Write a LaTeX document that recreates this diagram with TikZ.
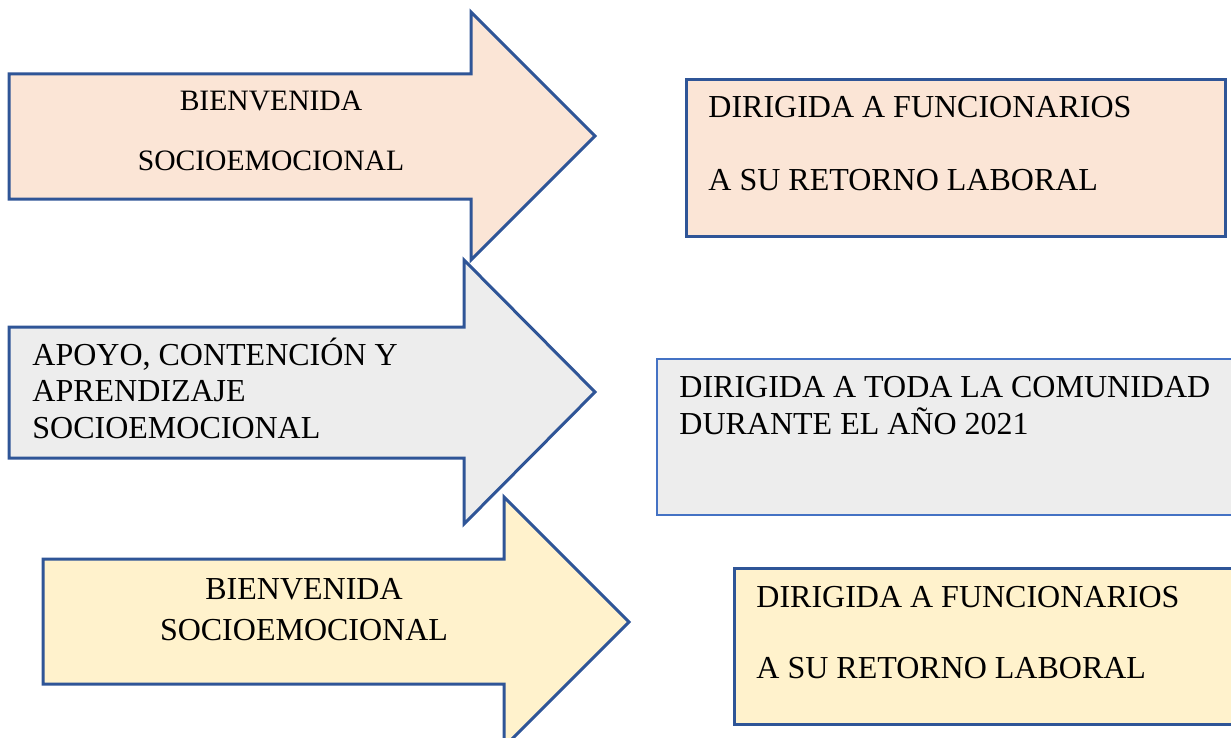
\documentclass[tikz,border=0pt]{standalone}
\usepackage{fontspec}
\setmainfont{Liberation Serif}
\usepackage{xcolor}
\usepackage{tikz}
\definecolor{edgeblue}{HTML}{2F5597}
\definecolor{boxblue}{HTML}{4472C4}
\definecolor{peachfill}{HTML}{FBE5D6}
\definecolor{grayfill}{HTML}{EDEDED}
\definecolor{yellowfill}{HTML}{FFF2CC}
\tikzset{
  bigarrow/.style={draw=edgeblue, line width=1.5pt, line join=miter},
  infobox/.style={draw=edgeblue, line width=1.5pt},
  txt/.style={font=\fontsize{16}{19}\selectfont, inner sep=0pt},
  smalltxt/.style={font=\fontsize{14.8}{18}\selectfont, inner sep=0pt},
}

\begin{document}
\begin{tikzpicture}[x=0.5pt,y=-0.5pt]
      \clip (0,0) rectangle (1231,738);
      % arrows
      \draw[bigarrow, fill=peachfill] (9,74) -- (471,74) -- (471,12) -- (595,136) -- (471,260) -- (471,199) -- (9,199) -- cycle;
      \draw[bigarrow, fill=grayfill] (9,327) -- (464,327) -- (464,260) -- (595,392) -- (464,524) -- (464,458) -- (9,458) -- cycle;
      \draw[bigarrow, fill=yellowfill] (43,559) -- (504,559) -- (504,497) -- (629,622) -- (504,747) -- (504,684) -- (43,684) -- cycle;
      % boxes
      \draw[infobox, fill=peachfill] (686,80) rectangle (1225,236);
      \draw[infobox, draw=boxblue, line width=1.25pt, fill=grayfill] (657,359) rectangle (1240,515);
      \draw[infobox, fill=yellowfill] (734,568) rectangle (1240,724);
      % arrow texts
      \node[smalltxt, anchor=base] (bien1) at (271,111) {BIENVENIDA};
      \node[smalltxt, anchor=base] (socio1) at (271,170) {SOCIOEMOCIONAL};
      \node[txt, anchor=base west] (apoyo) at (32,365) {APOYO, CONTENCIÓN Y};
      \node[txt, anchor=base west] (aprend) at (32,401) {APRENDIZAJE};
      \node[txt, anchor=base west] (socio2) at (32,438) {SOCIOEMOCIONAL};
      \node[txt, anchor=base] (bien3) at (304,599) {BIENVENIDA};
      \node[txt, anchor=base] (socio3) at (304,640) {SOCIOEMOCIONAL};
      % box texts
      \node[txt, anchor=base west] (func1) at (708,118) {DIRIGIDA A FUNCIONARIOS};
      \node[txt, anchor=base west] (ret1) at (708,191) {A SU RETORNO LABORAL};
      \node[txt, anchor=base west] (comu) at (679,397) {DIRIGIDA A TODA LA COMUNIDAD};
      \node[txt, anchor=base west] (anio) at (679,434) {DURANTE EL AÑO 2021};
      \node[txt, anchor=base west] (func3) at (756,607) {DIRIGIDA A FUNCIONARIOS};
      \node[txt, anchor=base west] (ret3) at (756,678) {A SU RETORNO LABORAL};
\end{tikzpicture}
\end{document}
